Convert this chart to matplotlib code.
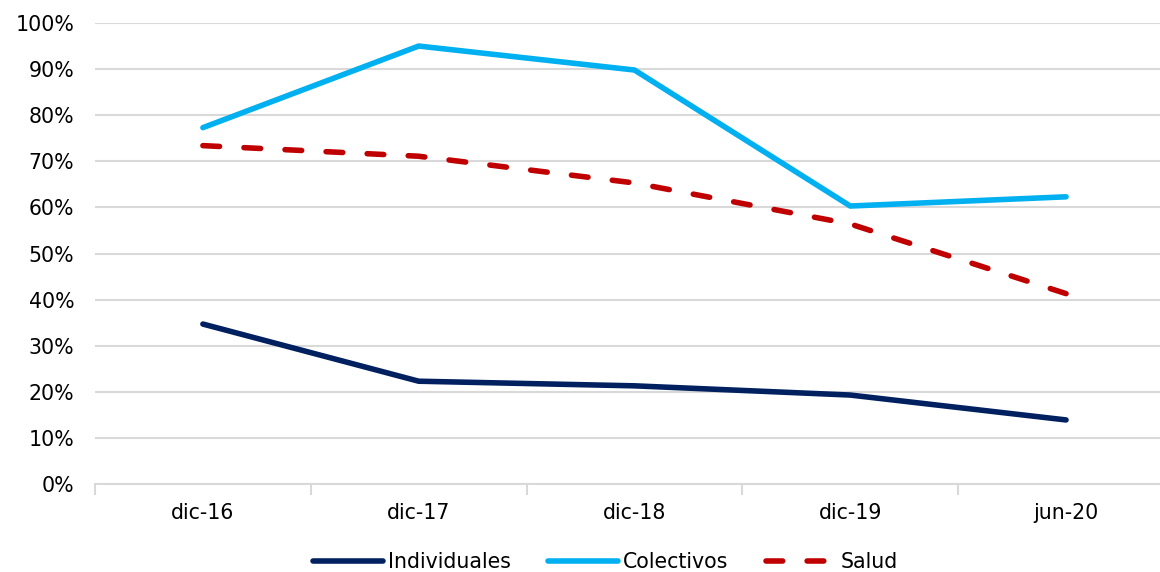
import matplotlib
matplotlib.use("Agg")
import matplotlib.pyplot as plt
import numpy as np
from matplotlib.ticker import FuncFormatter, FixedLocator

periods = ["dic-16", "dic-17", "dic-18", "dic-19", "jun-20"]
individuales = [34.7, 22.3, 21.3, 19.3, 13.9]
colectivos = [77.3, 95.0, 89.8, 60.3, 62.3]
salud = [73.4, 71.1, 65.3, 56.4, 41.3]

plt.rcParams["font.family"] = ["DejaVu Sans"]
fs = 14.8

fig = plt.figure(figsize=(11.6, 5.72), dpi=100)
ax = fig.add_axes([0.0819, 0.1538, 1.012 - 0.0819, 0.9598 - 0.1538])

x = np.arange(len(periods))
lw = 4.0
ax.plot(x, individuales, color="#002060", lw=lw, solid_capstyle="round",
        label="Individuales", zorder=3)
ax.plot(x, colectivos, color="#00B0F0", lw=lw, solid_capstyle="round",
        label="Colectivos", zorder=3)
ax.plot(x, salud, color="#C00000", lw=lw, dash_capstyle="round",
        dashes=(3.0, 4.4), label="Salud", zorder=3)

ax.set_xlim(-0.5, len(periods) - 0.5)
ax.set_ylim(0, 100)
ax.set_yticks(np.arange(0, 101, 10))
ax.yaxis.set_major_formatter(FuncFormatter(lambda v, _: f"{int(v)}%"))
ax.grid(axis="y", color="#d9d9d9", lw=1.5, zorder=0)
ax.set_axisbelow(True)

ax.set_xticks(x)
ax.set_xticklabels(periods)
ax.xaxis.set_minor_locator(FixedLocator(np.arange(-0.5, len(periods), 1.0)))
ax.tick_params(axis="x", which="major", length=0, pad=14, labelsize=fs,
               colors="#000000")
ax.tick_params(axis="x", which="minor", length=8, width=1.5, color="#d9d9d9")
ax.tick_params(axis="y", length=0, pad=15, labelsize=fs)

for side in ["top", "right", "left"]:
    ax.spines[side].set_visible(False)
ax.spines["bottom"].set_color("#d9d9d9")
ax.spines["bottom"].set_linewidth(1.5)

leg = fig.legend(loc="center", bbox_to_anchor=(0.522, 0.018), ncol=3,
                 frameon=False, fontsize=fs, handlelength=3.4,
                 handletextpad=0.25, columnspacing=1.8, borderpad=0)

fig.savefig("out.png", dpi=100)
